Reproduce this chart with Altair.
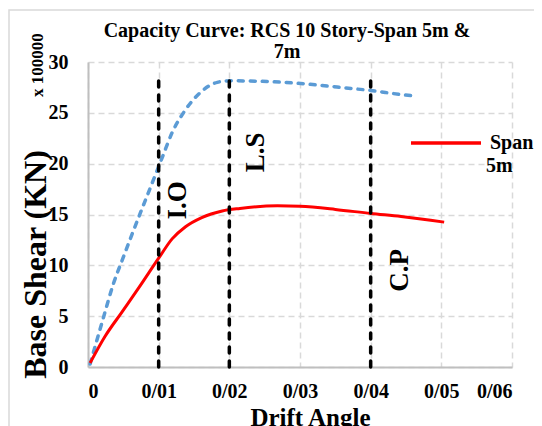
import altair as alt
import pandas as pd

# ---- data (base shear in units of 100000 kN) ----
drift_red = [0.0003, 0.0024, 0.0048, 0.0071, 0.01, 0.0119, 0.0138, 0.0161, 0.019, 0.0215, 0.0268, 0.03, 0.035, 0.04, 0.0443, 0.0504]
shear_red = [0.4, 3.0, 5.4, 7.7, 10.7, 12.6, 13.8, 14.7, 15.35, 15.6, 15.85, 15.8, 15.5, 15.1, 14.8, 14.25]

drift_blue = [0.0003, 0.0022, 0.0036, 0.005, 0.0062, 0.0088, 0.0105, 0.012, 0.0135, 0.0159, 0.0183, 0.0201, 0.0277, 0.0372, 0.04, 0.0443, 0.0457]
shear_blue = [0.3, 4.9, 8.2, 10.8, 13.0, 17.6, 20.6, 23.2, 25.0, 27.0, 28.0, 28.15, 28.0, 27.4, 27.2, 26.8, 26.7]

limit_drift = [0.01, 0.02, 0.04]
limit_top = [28.4, 28.4, 28.4]

zone_labels = ["I.O", "L.S", "C.P"]
zone_x = [0.0128, 0.0238, 0.0441]
zone_y = [16.4, 21.1, 9.5]

x_ticks = [0, 0.01, 0.02, 0.03, 0.04, 0.05, 0.06]
y_ticks = [0, 5, 10, 15, 20, 25, 30]

title_lines = ["Capacity Curve: RCS 10 Story-Span 5m &", "7m"]
series_name = "Span 5m"

FONT = "Liberation Serif"

red_df = pd.DataFrame({"drift": drift_red, "shear": shear_red, "series": series_name})
blue_df = pd.DataFrame({"drift": drift_blue, "shear": shear_blue})
lim_df = pd.DataFrame({"drift": limit_drift, "shear": [0] * len(limit_drift), "top": limit_top})
lab_df = pd.DataFrame({"drift": zone_x, "shear": zone_y, "label": zone_labels})

xs = alt.Scale(domain=[0, 0.06], nice=False, zero=False)
ys = alt.Scale(domain=[0, 30], nice=False)

x_axis = alt.Axis(
    values=x_ticks,
    labelExpr="datum.value == 0 ? '0' : replace(format(datum.value, '.2f'), '.', '/')",
    title="Drift Angle",
    titleFontSize=25,
    titleX=222,
    titleY=58,
    titleBaseline="alphabetic",
    titleAlign="center",
    labelPadding=14,
)
y_axis = alt.Axis(
    values=y_ticks,
    title="Base Shear (KN)",
    titleFontSize=32,
    titleX=-53,
    titleY=202,
    titleAngle=270,
    titleAlign="center",
    titleBaseline="middle",
    labelPadding=20,
)


def X(field):
    return alt.X(field, type="quantitative", scale=xs, axis=x_axis)


def Y(field):
    return alt.Y(field, type="quantitative", scale=ys, axis=y_axis)


frame = alt.Chart(pd.DataFrame({"a": [0]})).mark_rect(
    fillOpacity=0, stroke="#d9d9d9", strokeWidth=1.5
).encode(x=alt.value(-79), x2=alt.value(480), y=alt.value(-52), y2=alt.value(440))

title = alt.Chart(pd.DataFrame({"t": [title_lines]})).mark_text(
    font=FONT, fontSize=20, fontWeight="bold", align="center", baseline="alphabetic",
    lineHeight=21, color="black"
).encode(x=alt.value(199), y=alt.value(-25), text="t")

blue = alt.Chart(blue_df).mark_line(
    color="#5b9bd5", strokeWidth=3.5, strokeDash=[5, 7], strokeCap="round", interpolate="monotone"
).encode(x=X("drift"), y=Y("shear"))

red = alt.Chart(red_df).mark_line(strokeWidth=3, interpolate="monotone").encode(
    x=X("drift"),
    y=Y("shear"),
    color=alt.Color(
        "series:N",
        scale=alt.Scale(domain=[series_name], range=["#ff0000"]),
        legend=alt.Legend(
            title=None,
            orient="none",
            legendX=321,
            legendY=44,
            symbolType="stroke",
            symbolSize=4900,
            symbolStrokeWidth=3.5,
            labelExpr="'Span'",
            labelFontSize=20,
            labelFont=FONT,
            labelFontWeight="bold",
            labelColor="black",
            labelOffset=7,
            padding=0,
        ),
    ),
)

legend_extra = alt.Chart(pd.DataFrame({"t": ["5m"]})).mark_text(
    font=FONT, fontSize=20, fontWeight="bold", align="left", baseline="alphabetic", color="black"
).encode(x=alt.value(398), y=alt.value(110), text="t:N")

limits = alt.Chart(lim_df).mark_rule(
    color="black", strokeWidth=3.5, strokeDash=[6, 8], strokeCap="round"
).encode(x=X("drift"), y=Y("shear"), y2="top")

labels = alt.Chart(lab_df).mark_text(
    font=FONT, fontSize=27, fontWeight="bold", angle=270, align="center", baseline="middle", color="black"
).encode(x=X("drift"), y=Y("shear"), text="label:N")

unit = alt.Chart(pd.DataFrame({"t": ["x 100000"]})).mark_text(
    font=FONT, fontSize=17, fontWeight="bold", angle=270, align="center", baseline="middle", color="black"
).encode(x=alt.value(-50), y=alt.value(3), text="t:N")

chart = (
    alt.layer(frame, title, blue, red, limits, labels, unit, legend_extra)
    .properties(
        width=424,
        height=305,
        padding={"left": 80, "top": 54, "right": 22, "bottom": 59},
        autosize=alt.AutoSizeParams(type="none"),
    )
    .configure_view(stroke=None)
    .configure_axis(
        labelFont=FONT,
        labelFontSize=20,
        labelFontWeight="bold",
        labelColor="black",
        titleFont=FONT,
        titleFontWeight="bold",
        titleColor="black",
        gridColor="#d9d9d9",
        gridDash=[6, 4],
        gridWidth=1.5,
        domainColor="#bfbfbf",
        domainWidth=2,
        ticks=False,
    )
)

chart.save("out.html", embed_options={"renderer": "svg", "actions": False})
